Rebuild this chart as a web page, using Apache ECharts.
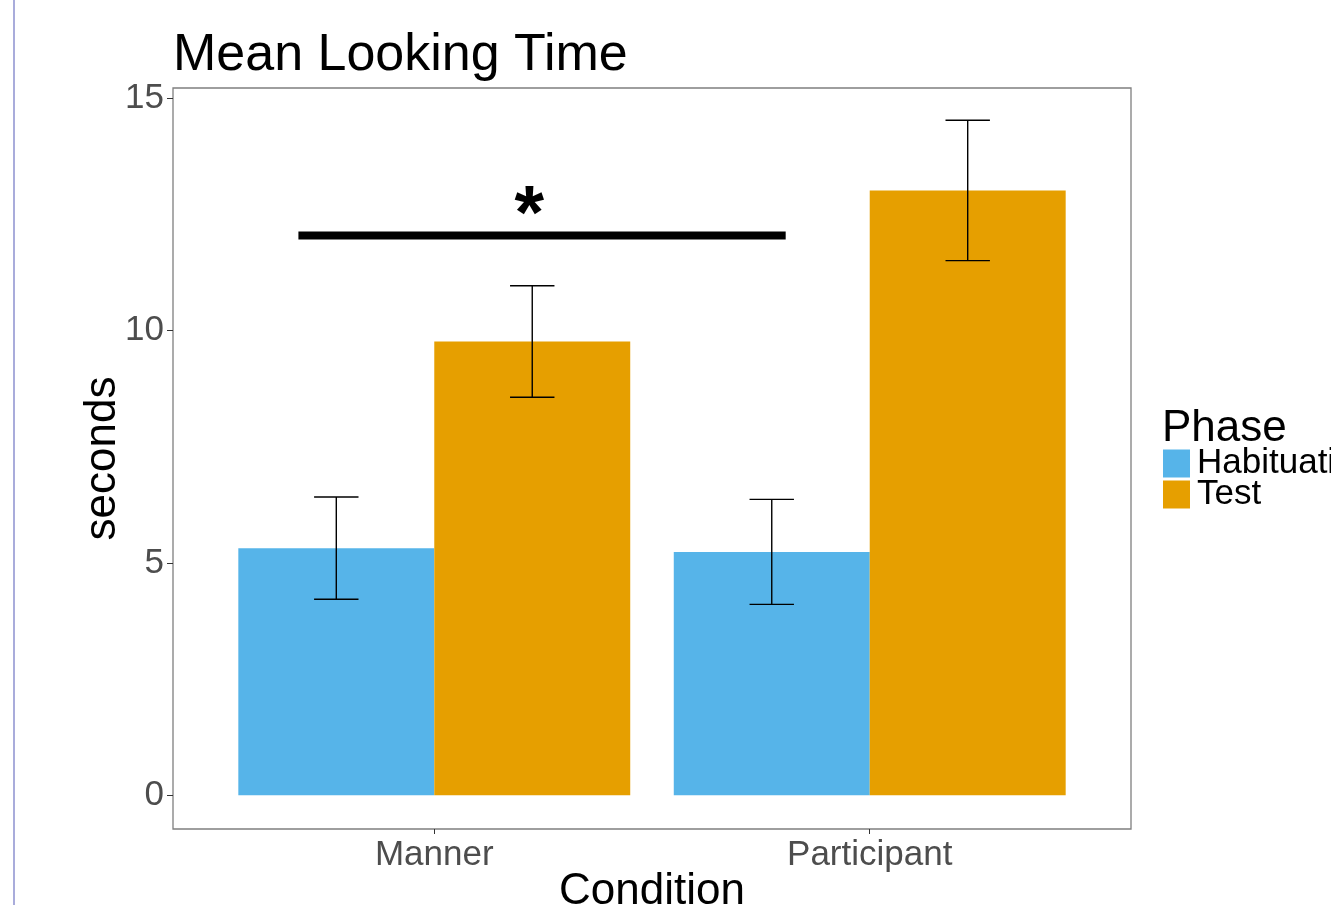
<!DOCTYPE html>
<html>
<head>
<meta charset="utf-8">
<style>
  html, body { margin: 0; padding: 0; background: #fff; }
  #chart { width: 1331px; height: 905px; }
</style>
<script src="https://cdn.jsdelivr.net/npm/echarts@6/dist/echarts.min.js"></script>
</head>
<body>
<div id="chart"></div>
<script>
const conditions = ['Manner', 'Participant']
const phases = ['Habituation', 'Test']
const habituation = [5.32, 5.24]
const test = [9.77, 13.02]
const habituationSE = [1.1, 1.13]
const testSE = [1.2, 1.51]
const yTicks = [0, 5, 10, 15]
// significance bracket: from x, to x, height
const sigBar = [0.688, 1.807, 12.05]
// star label: x, y
const sigLabel = ['*', 1.218, 12.45]

const colors = ['#56B4E9', '#E69F00']
const font = 'Liberation Sans, Arial, Helvetica, sans-serif'
const dodge = 0.225

const chart = echarts.init(document.getElementById('chart'))

function barItem(offset) {
  return function (params, api) {
    const x = api.value(0) + offset
    const p0 = api.coord([x - dodge, api.value(1)])
    const p1 = api.coord([x + dodge, 0])
    return {
      type: 'rect',
      shape: { x: p0[0], y: p0[1], width: p1[0] - p0[0], height: p1[1] - p0[1] },
      style: { fill: api.visual('color') }
    }
  }
}

function errItem(params, api) {
  const x = api.value(0)
  const hw = 0.051
  const top = api.coord([x, api.value(2)])
  const bot = api.coord([x, api.value(1)])
  const l = api.coord([x - hw, 0])[0]
  const r = api.coord([x + hw, 0])[0]
  const st = { stroke: '#000', lineWidth: 1.4 }
  return {
    type: 'group',
    children: [
      { type: 'line', shape: { x1: top[0], y1: top[1], x2: bot[0], y2: bot[1] }, style: st },
      { type: 'line', shape: { x1: l, y1: top[1], x2: r, y2: top[1] }, style: st },
      { type: 'line', shape: { x1: l, y1: bot[1], x2: r, y2: bot[1] }, style: st }
    ]
  }
}

const errData = []
conditions.forEach((c, i) => {
  errData.push([i + 1 - dodge, habituation[i] - habituationSE[i], habituation[i] + habituationSE[i]])
  errData.push([i + 1 + dodge, test[i] - testSE[i], test[i] + testSE[i]])
})

chart.setOption({
  animation: false,
  title: [{
    text: 'Mean Looking Time',
    left: 168,
    top: 25,
    textStyle: { fontFamily: font, fontSize: 52, fontWeight: 'normal', color: '#000' }
  }, {
    text: 'Phase',
    left: 1157,
    top: 402,
    textStyle: { fontFamily: font, fontSize: 44, fontWeight: 'normal', color: '#000' }
  }],
  legend: {
    data: phases.map((p, i) => ({ name: p, icon: 'rect', itemStyle: { color: colors[i] } })),
    orient: 'vertical',
    left: 1163,
    top: 446,
    itemWidth: 27,
    itemHeight: 28,
    itemGap: -4,
    padding: 0,
    textStyle: { fontFamily: font, fontSize: 35, color: '#000', padding: [0, 0, 0, 2] }
  },
  grid: {
    left: 173,
    right: 200,
    top: 88,
    bottom: 76,
    outerBoundsMode: 'none',
    containLabel: false,
    show: true,
    borderColor: '#7f7f7f',
    borderWidth: 1.3,
    backgroundColor: '#fff'
  },
  xAxis: {
    type: 'value',
    min: 0.4,
    max: 2.6,
    name: 'Condition',
    nameLocation: 'middle',
    nameGap: 41,
    nameMoveOverlap: false,
    nameTextStyle: { fontFamily: font, fontSize: 44, color: '#000' },
    axisLine: { show: false, onZero: false },
    axisTick: { show: true, length: 5, customValues: [1, 2], lineStyle: { color: '#333' } },
    axisLabel: {
      customValues: [1, 2],
      formatter: v => conditions[Math.round(v) - 1],
      fontFamily: font,
      fontSize: 35,
      color: '#4d4d4d',
      margin: 9
    },
    splitLine: { show: false }
  },
  yAxis: {
    type: 'value',
    min: -0.725,
    max: 15.225,
    name: 'seconds',
    nameLocation: 'middle',
    nameRotate: 90,
    nameGap: 48,
    nameMoveOverlap: false,
    nameTextStyle: { fontFamily: font, fontSize: 44, color: '#000' },
    axisLine: { show: false, onZero: false },
    axisTick: { show: true, length: 6, customValues: yTicks, lineStyle: { color: '#333' } },
    axisLabel: {
      customValues: yTicks,
      fontFamily: font,
      fontSize: 35,
      color: '#4d4d4d',
      margin: 9
    },
    splitLine: { show: false }
  },
  graphic: [{
    type: 'line',
    shape: { x1: 14, y1: 0, x2: 14, y2: 905 },
    style: { stroke: '#a9acdb', lineWidth: 2 }
  }],
  series: [{
    name: phases[0],
    type: 'custom',
    itemStyle: { color: colors[0] },
    renderItem: barItem(-dodge),
    data: habituation.map((v, i) => [i + 1, v])
  }, {
    name: phases[1],
    type: 'custom',
    itemStyle: { color: colors[1] },
    renderItem: barItem(dodge),
    data: test.map((v, i) => [i + 1, v])
  }, {
    name: 'se',
    type: 'custom',
    renderItem: errItem,
    data: errData,
    z: 5
  }, {
    name: 'sig',
    type: 'custom',
    z: 6,
    renderItem: function (params, api) {
      const a = api.coord([api.value(0), api.value(2)])
      const b = api.coord([api.value(1), api.value(2)])
      const t = api.coord([sigLabel[1], sigLabel[2]])
      return {
        type: 'group',
        children: [
          { type: 'rect', shape: { x: a[0], y: a[1] - 4, width: b[0] - a[0], height: 8 }, style: { fill: '#000' } },
          { type: 'text', x: t[0], y: t[1], style: { text: sigLabel[0], font: 'bold 76px ' + font, fill: '#000', align: 'center', verticalAlign: 'middle' } }
        ]
      }
    },
    data: [sigBar]
  }]
})
</script>
</body>
</html>
